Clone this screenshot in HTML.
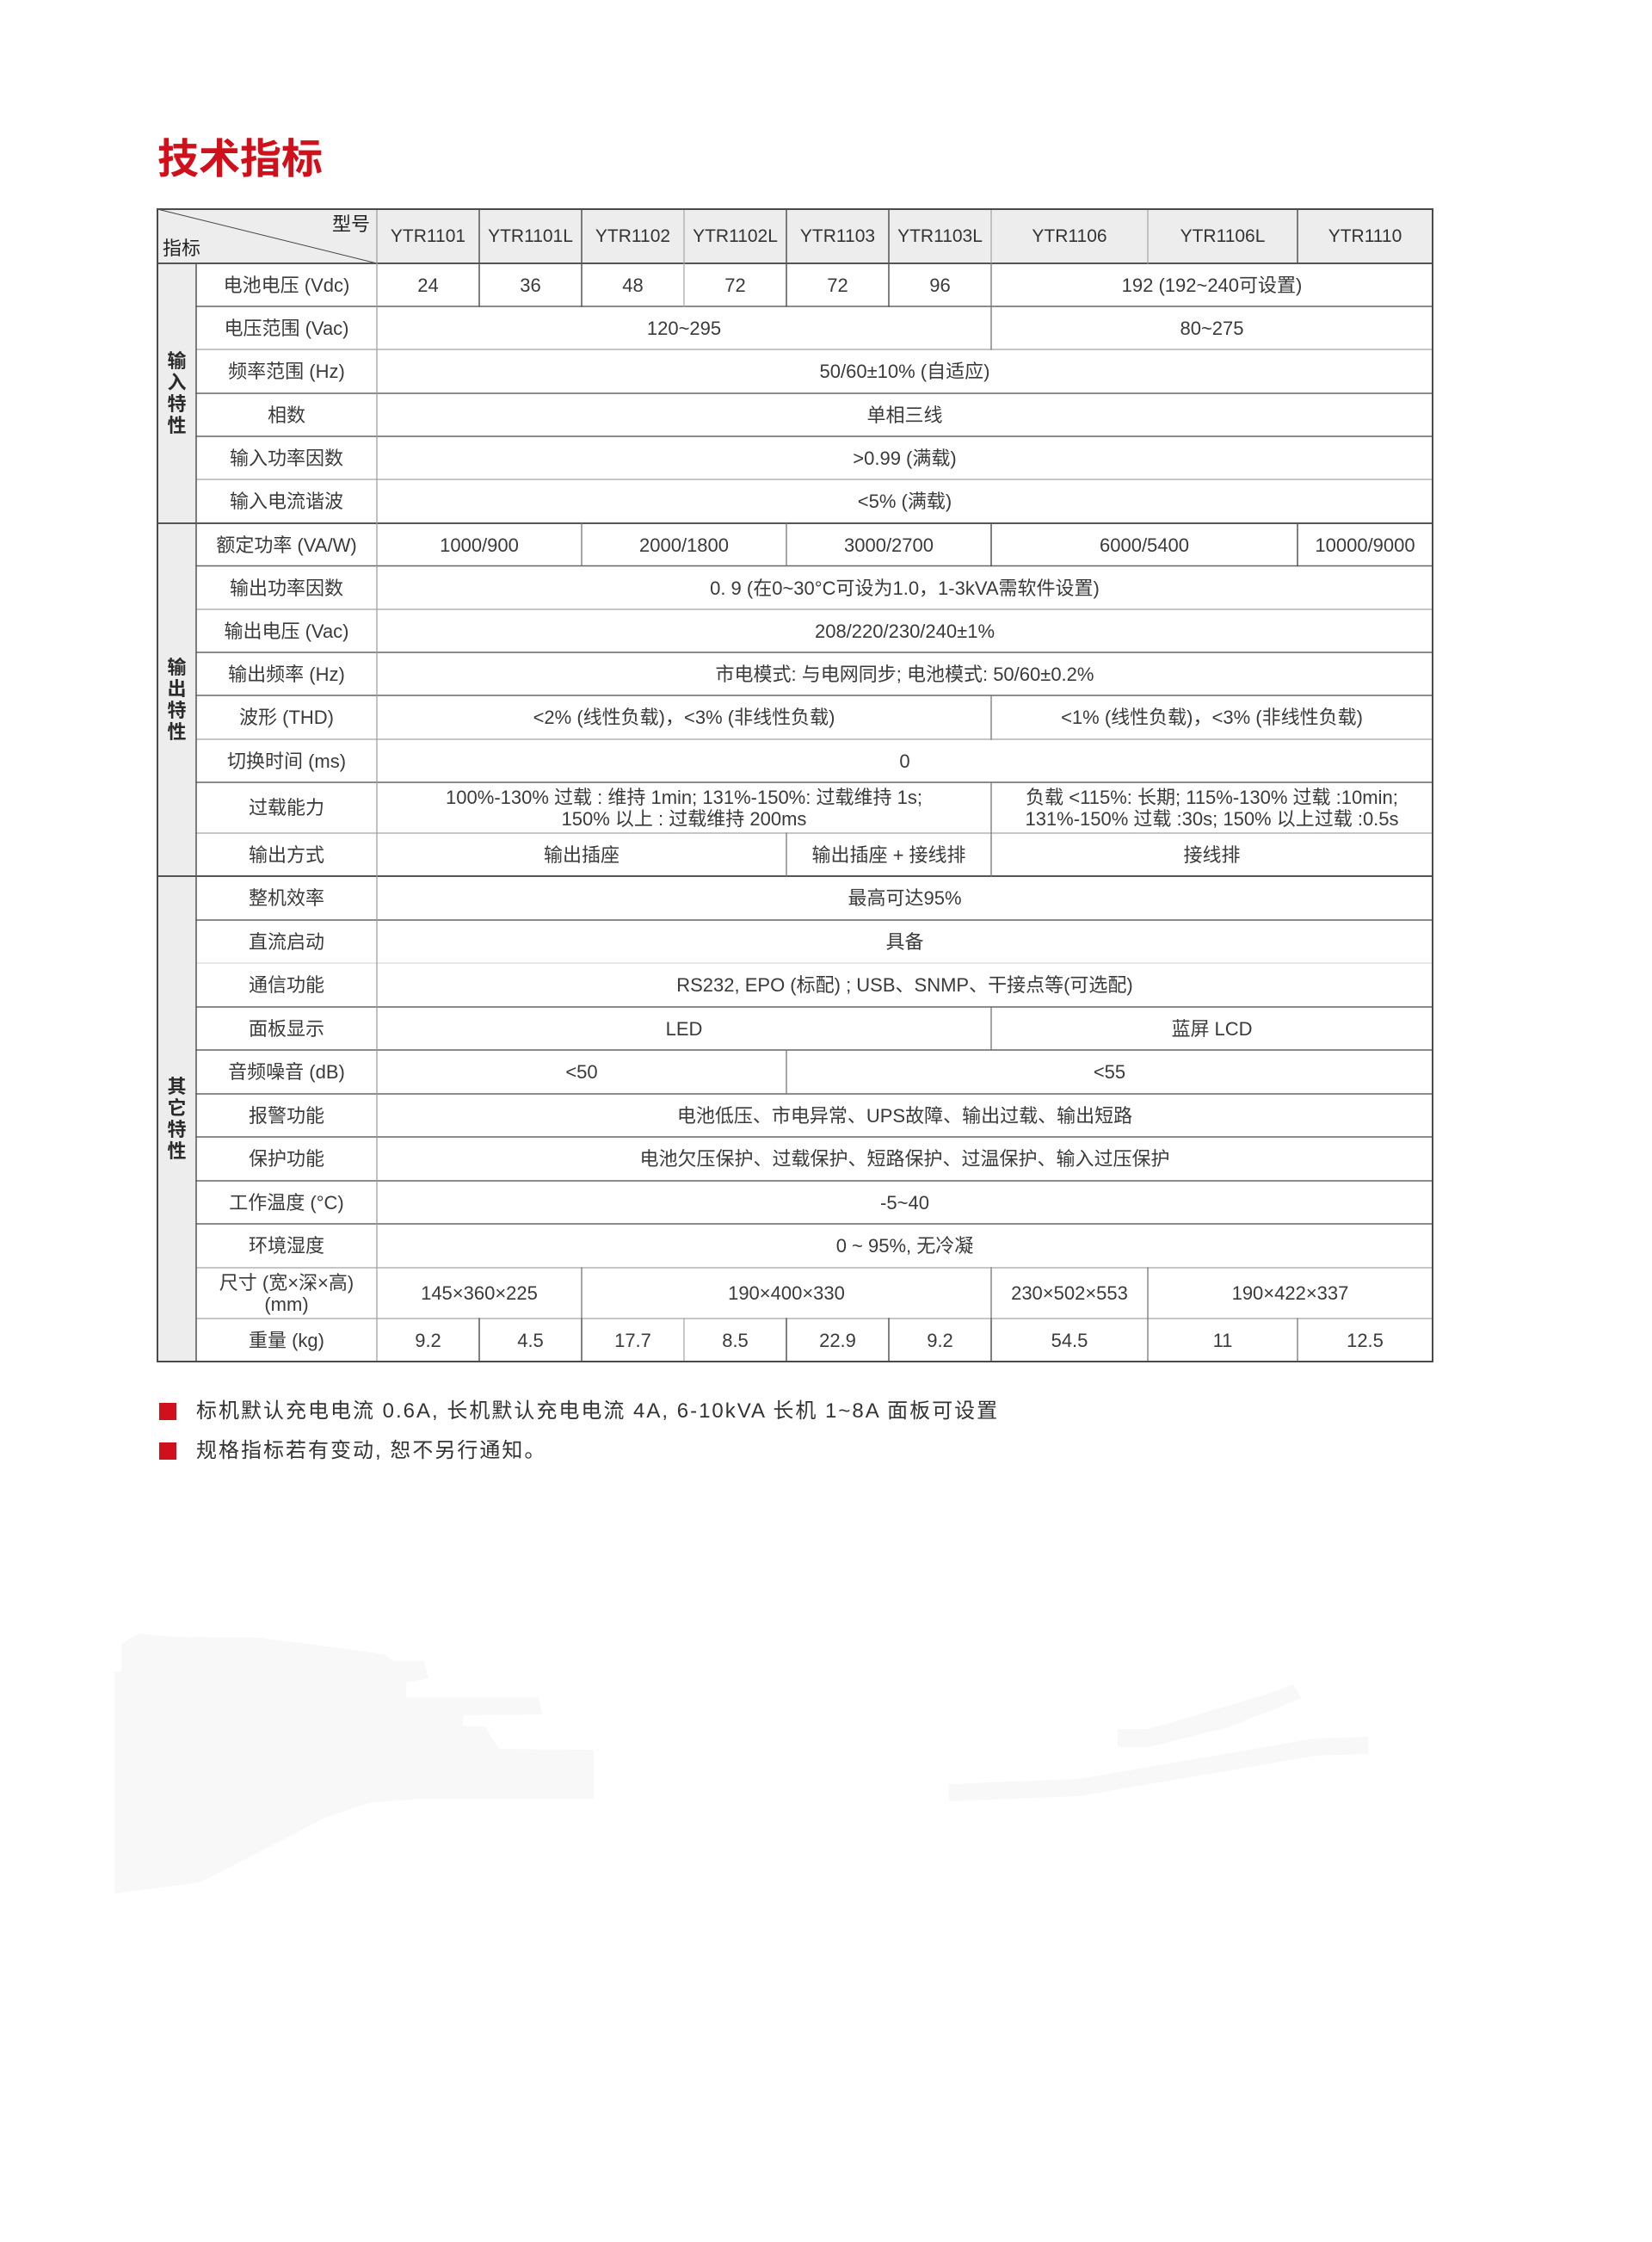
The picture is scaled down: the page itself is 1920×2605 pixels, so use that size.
<!DOCTYPE html>
<html><head><meta charset="utf-8">
<style>
html,body{margin:0;padding:0;background:#fff;}
body{width:1920px;height:2605px;position:relative;overflow:hidden;font-family:"Liberation Sans","Noto Sans CJK SC",sans-serif;}
.t{position:absolute;left:183px;top:156px;font-family:"Noto Sans CJK SC",sans-serif;font-weight:700;font-size:48px;line-height:48px;color:#d0101b;white-space:nowrap;}
.c{position:absolute;display:flex;align-items:center;justify-content:center;text-align:center;font-size:22px;line-height:25px;color:#3a3a3a;white-space:nowrap;}
.h{font-size:21px;color:#333;}
.g{font-size:22px;line-height:25px;color:#2a2a2a;font-weight:700;}
.bg{position:absolute;background:#ededed;}
.n{position:absolute;left:228px;font-family:"Liberation Sans","Noto Sans CJK SC",sans-serif;font-size:24px;letter-spacing:2px;color:#333;white-space:nowrap;line-height:30px;}
.sq{position:absolute;left:185px;width:20px;height:20px;background:#d0101b;}
svg{position:absolute;left:0;top:0;}
</style></head><body>

<svg width="1920" height="2605" style="z-index:0">
<g fill="#f8f8f8">
<polygon points="161,1898 202,1902 304,1903 447,1922 457,1930 493,1930 498,1950 472,1955 472,1972 625,1972 631,1992 539,1993 537,2005 564,2007 580,2032 690,2033 690,2090 488,2090 427,2095 376,2113 324,2140 233,2187 133,2200 133,1943 141,1942 141,1910"/>
<polygon points="1103,2073 1253,2067 1529,2020 1590,2018 1590,2038 1529,2040 1253,2087 1103,2093"/>
<polygon points="1299,2009 1335,2009 1478,1967 1503,1957 1513,1973 1427,2007 1335,2030 1299,2030"/>
</g>
</svg>

<div class="t">技术指标</div>

<!-- backgrounds -->
<div class="bg" style="left:183px;top:243px;width:1482px;height:63px;"></div>
<div class="bg" style="left:183px;top:306px;width:45px;height:1276px;"></div>

<!-- header -->
<div class="c" style="left:380px;top:246px;width:56px;height:28px;font-size:22px;color:#222;">型号</div>
<div class="c" style="left:186px;top:274px;width:50px;height:28px;font-size:22px;color:#222;">指标</div>
<div class="c h" style="left:438px;top:243px;width:119px;height:63px;">YTR1101</div>
<div class="c h" style="left:557px;top:243px;width:119px;height:63px;">YTR1101L</div>
<div class="c h" style="left:676px;top:243px;width:119px;height:63px;">YTR1102</div>
<div class="c h" style="left:795px;top:243px;width:119px;height:63px;">YTR1102L</div>
<div class="c h" style="left:914px;top:243px;width:119px;height:63px;">YTR1103</div>
<div class="c h" style="left:1033px;top:243px;width:119px;height:63px;">YTR1103L</div>
<div class="c h" style="left:1152px;top:243px;width:182px;height:63px;">YTR1106</div>
<div class="c h" style="left:1334px;top:243px;width:174px;height:63px;">YTR1106L</div>
<div class="c h" style="left:1508px;top:243px;width:157px;height:63px;">YTR1110</div>

<!-- group labels -->
<div class="c g" style="left:183px;top:306px;width:45px;height:302px;">输<br>入<br>特<br>性</div>
<div class="c g" style="left:183px;top:608px;width:45px;height:410px;">输<br>出<br>特<br>性</div>
<div class="c g" style="left:183px;top:1018px;width:45px;height:564px;">其<br>它<br>特<br>性</div>

<!-- input rows -->
<div class="c" style="left:228px;top:306px;width:210px;height:50px;">电池电压 (Vdc)</div>
<div class="c" style="left:438px;top:306px;width:119px;height:50px;">24</div>
<div class="c" style="left:557px;top:306px;width:119px;height:50px;">36</div>
<div class="c" style="left:676px;top:306px;width:119px;height:50px;">48</div>
<div class="c" style="left:795px;top:306px;width:119px;height:50px;">72</div>
<div class="c" style="left:914px;top:306px;width:119px;height:50px;">72</div>
<div class="c" style="left:1033px;top:306px;width:119px;height:50px;">96</div>
<div class="c" style="left:1152px;top:306px;width:513px;height:50px;">192 (192~240可设置)</div>

<div class="c" style="left:228px;top:356px;width:210px;height:50px;">电压范围 (Vac)</div>
<div class="c" style="left:438px;top:356px;width:714px;height:50px;">120~295</div>
<div class="c" style="left:1152px;top:356px;width:513px;height:50px;">80~275</div>

<div class="c" style="left:228px;top:406px;width:210px;height:51px;">频率范围 (Hz)</div>
<div class="c" style="left:438px;top:406px;width:1227px;height:51px;">50/60±10% (自适应)</div>

<div class="c" style="left:228px;top:457px;width:210px;height:50px;">相数</div>
<div class="c" style="left:438px;top:457px;width:1227px;height:50px;">单相三线</div>

<div class="c" style="left:228px;top:507px;width:210px;height:50px;">输入功率因数</div>
<div class="c" style="left:438px;top:507px;width:1227px;height:50px;">&gt;0.99 (满载)</div>

<div class="c" style="left:228px;top:557px;width:210px;height:51px;">输入电流谐波</div>
<div class="c" style="left:438px;top:557px;width:1227px;height:51px;">&lt;5% (满载)</div>

<!-- output rows -->
<div class="c" style="left:228px;top:608px;width:210px;height:50px;">额定功率 (VA/W)</div>
<div class="c" style="left:438px;top:608px;width:238px;height:50px;">1000/900</div>
<div class="c" style="left:676px;top:608px;width:238px;height:50px;">2000/1800</div>
<div class="c" style="left:914px;top:608px;width:238px;height:50px;">3000/2700</div>
<div class="c" style="left:1152px;top:608px;width:356px;height:50px;">6000/5400</div>
<div class="c" style="left:1508px;top:608px;width:157px;height:50px;">10000/9000</div>

<div class="c" style="left:228px;top:658px;width:210px;height:50px;">输出功率因数</div>
<div class="c" style="left:438px;top:658px;width:1227px;height:50px;">0. 9 (在0~30°C可设为1.0，1-3kVA需软件设置)</div>

<div class="c" style="left:228px;top:708px;width:210px;height:50px;">输出电压 (Vac)</div>
<div class="c" style="left:438px;top:708px;width:1227px;height:50px;">208/220/230/240±1%</div>

<div class="c" style="left:228px;top:758px;width:210px;height:50px;">输出频率 (Hz)</div>
<div class="c" style="left:438px;top:758px;width:1227px;height:50px;">市电模式: 与电网同步; 电池模式: 50/60±0.2%</div>

<div class="c" style="left:228px;top:808px;width:210px;height:51px;">波形 (THD)</div>
<div class="c" style="left:438px;top:808px;width:714px;height:51px;">&lt;2% (线性负载)，&lt;3% (非线性负载)</div>
<div class="c" style="left:1152px;top:808px;width:513px;height:51px;">&lt;1% (线性负载)，&lt;3% (非线性负载)</div>

<div class="c" style="left:228px;top:859px;width:210px;height:50px;">切换时间 (ms)</div>
<div class="c" style="left:438px;top:859px;width:1227px;height:50px;">0</div>

<div class="c" style="left:228px;top:909px;width:210px;height:59px;">过载能力</div>
<div class="c" style="left:438px;top:909px;width:714px;height:59px;">100%-130% 过载 : 维持 1min; 131%-150%: 过载维持 1s;<br>150% 以上 : 过载维持 200ms</div>
<div class="c" style="left:1152px;top:909px;width:513px;height:59px;">负载 &lt;115%: 长期; 115%-130% 过载 :10min;<br>131%-150% 过载 :30s; 150% 以上过载 :0.5s</div>

<div class="c" style="left:228px;top:968px;width:210px;height:50px;">输出方式</div>
<div class="c" style="left:438px;top:968px;width:476px;height:50px;">输出插座</div>
<div class="c" style="left:914px;top:968px;width:238px;height:50px;">输出插座 + 接线排</div>
<div class="c" style="left:1152px;top:968px;width:513px;height:50px;">接线排</div>

<!-- other rows -->
<div class="c" style="left:228px;top:1018px;width:210px;height:51px;">整机效率</div>
<div class="c" style="left:438px;top:1018px;width:1227px;height:51px;">最高可达95%</div>

<div class="c" style="left:228px;top:1069px;width:210px;height:50px;">直流启动</div>
<div class="c" style="left:438px;top:1069px;width:1227px;height:50px;">具备</div>

<div class="c" style="left:228px;top:1119px;width:210px;height:51px;">通信功能</div>
<div class="c" style="left:438px;top:1119px;width:1227px;height:51px;">RS232, EPO (标配) ; USB、SNMP、干接点等(可选配)</div>

<div class="c" style="left:228px;top:1170px;width:210px;height:50px;">面板显示</div>
<div class="c" style="left:438px;top:1170px;width:714px;height:50px;">LED</div>
<div class="c" style="left:1152px;top:1170px;width:513px;height:50px;">蓝屏 LCD</div>

<div class="c" style="left:228px;top:1220px;width:210px;height:51px;">音频噪音 (dB)</div>
<div class="c" style="left:438px;top:1220px;width:476px;height:51px;">&lt;50</div>
<div class="c" style="left:914px;top:1220px;width:751px;height:51px;">&lt;55</div>

<div class="c" style="left:228px;top:1271px;width:210px;height:50px;">报警功能</div>
<div class="c" style="left:438px;top:1271px;width:1227px;height:50px;">电池低压、市电异常、UPS故障、输出过载、输出短路</div>

<div class="c" style="left:228px;top:1321px;width:210px;height:51px;">保护功能</div>
<div class="c" style="left:438px;top:1321px;width:1227px;height:51px;">电池欠压保护、过载保护、短路保护、过温保护、输入过压保护</div>

<div class="c" style="left:228px;top:1372px;width:210px;height:50px;">工作温度 (°C)</div>
<div class="c" style="left:438px;top:1372px;width:1227px;height:50px;">-5~40</div>

<div class="c" style="left:228px;top:1422px;width:210px;height:51px;">环境湿度</div>
<div class="c" style="left:438px;top:1422px;width:1227px;height:51px;">0 ~ 95%, 无冷凝</div>

<div class="c" style="left:228px;top:1473px;width:210px;height:59px;">尺寸 (宽×深×高)<br>(mm)</div>
<div class="c" style="left:438px;top:1473px;width:238px;height:59px;">145×360×225</div>
<div class="c" style="left:676px;top:1473px;width:476px;height:59px;">190×400×330</div>
<div class="c" style="left:1152px;top:1473px;width:182px;height:59px;">230×502×553</div>
<div class="c" style="left:1334px;top:1473px;width:331px;height:59px;">190×422×337</div>

<div class="c" style="left:228px;top:1532px;width:210px;height:50px;">重量 (kg)</div>
<div class="c" style="left:438px;top:1532px;width:119px;height:50px;">9.2</div>
<div class="c" style="left:557px;top:1532px;width:119px;height:50px;">4.5</div>
<div class="c" style="left:676px;top:1532px;width:119px;height:50px;">17.7</div>
<div class="c" style="left:795px;top:1532px;width:119px;height:50px;">8.5</div>
<div class="c" style="left:914px;top:1532px;width:119px;height:50px;">22.9</div>
<div class="c" style="left:1033px;top:1532px;width:119px;height:50px;">9.2</div>
<div class="c" style="left:1152px;top:1532px;width:182px;height:50px;">54.5</div>
<div class="c" style="left:1334px;top:1532px;width:174px;height:50px;">11</div>
<div class="c" style="left:1508px;top:1532px;width:157px;height:50px;">12.5</div>

<!-- grid lines -->
<svg width="1920" height="2605" style="z-index:2">
<g fill="none" stroke-linecap="square">
<line x1="183" y1="243" x2="438" y2="306" stroke="#444" stroke-width="1"/>
<line x1="183" y1="306" x2="1665" y2="306" stroke="#555" stroke-width="2"/>
<g stroke="#666" stroke-width="1.5">
<line x1="228" y1="356" x2="1665" y2="356"/>
<line x1="228" y1="457" x2="1665" y2="457"/>
<line x1="228" y1="507" x2="1665" y2="507"/>
<line x1="228" y1="657.5" x2="1665" y2="657.5"/>
<line x1="228" y1="758" x2="1665" y2="758"/>
<line x1="228" y1="808" x2="1665" y2="808"/>
<line x1="228" y1="909" x2="1665" y2="909"/>
<line x1="228" y1="1069" x2="1665" y2="1069"/>
<line x1="228" y1="1170" x2="1665" y2="1170"/>
<line x1="228" y1="1220" x2="1665" y2="1220"/>
<line x1="228" y1="1271" x2="1665" y2="1271"/>
<line x1="228" y1="1321" x2="1665" y2="1321"/>
<line x1="228" y1="1372" x2="1665" y2="1372"/>
<line x1="228" y1="1422" x2="1665" y2="1422"/>
</g>
<g stroke="#a5a5a5" stroke-width="1.2">
<line x1="228" y1="406" x2="1665" y2="406"/>
<line x1="228" y1="557" x2="1665" y2="557"/>
<line x1="228" y1="708" x2="1665" y2="708"/>
<line x1="228" y1="859" x2="1665" y2="859"/>
<line x1="228" y1="968" x2="1665" y2="968"/>
<line x1="228" y1="1473" x2="1665" y2="1473"/>
<line x1="228" y1="1532" x2="1665" y2="1532"/>
</g>
<line x1="228" y1="1119" x2="1665" y2="1119" stroke="#d0d0d0" stroke-width="1"/>
<g stroke="#555" stroke-width="2">
<line x1="183" y1="608" x2="1665" y2="608"/>
<line x1="183" y1="1018" x2="1665" y2="1018"/>
</g>
<line x1="228" y1="306" x2="228" y2="1582" stroke="#555" stroke-width="1.5"/>
<line x1="438" y1="243" x2="438" y2="1582" stroke="#9a9a9a" stroke-width="1.2"/>
<g stroke="#555" stroke-width="1.5">
<line x1="557" y1="243" x2="557" y2="356"/>
<line x1="676" y1="243" x2="676" y2="356"/>
<line x1="914" y1="243" x2="914" y2="356"/>
<line x1="1033" y1="243" x2="1033" y2="356"/>
<line x1="1508" y1="243" x2="1508" y2="306"/>
<line x1="1152" y1="608" x2="1152" y2="657.5"/>
<line x1="1508" y1="608" x2="1508" y2="657.5"/>
<line x1="557" y1="1532" x2="557" y2="1582"/>
<line x1="676" y1="1532" x2="676" y2="1582"/>
<line x1="914" y1="1532" x2="914" y2="1582"/>
<line x1="1033" y1="1532" x2="1033" y2="1582"/>
<line x1="1152" y1="1532" x2="1152" y2="1582"/>
</g>
<g stroke="#a5a5a5" stroke-width="1.2">
<line x1="795" y1="243" x2="795" y2="356"/>
<line x1="1152" y1="243" x2="1152" y2="306"/>
<line x1="1334" y1="243" x2="1334" y2="306"/>
<line x1="795" y1="1532" x2="795" y2="1582"/>
</g>
<g stroke="#777" stroke-width="1.3">
<line x1="1152" y1="306" x2="1152" y2="406"/>
<line x1="676" y1="608" x2="676" y2="657.5"/>
<line x1="914" y1="608" x2="914" y2="657.5"/>
<line x1="1152" y1="808" x2="1152" y2="859"/>
<line x1="1152" y1="909" x2="1152" y2="1018"/>
<line x1="914" y1="968" x2="914" y2="1018"/>
<line x1="1152" y1="1170" x2="1152" y2="1220"/>
<line x1="914" y1="1220" x2="914" y2="1271"/>
<line x1="676" y1="1473" x2="676" y2="1532"/>
<line x1="1152" y1="1473" x2="1152" y2="1532"/>
<line x1="1334" y1="1473" x2="1334" y2="1582"/>
<line x1="1508" y1="1532" x2="1508" y2="1582"/>
</g>
<rect x="183" y="243" width="1482" height="1339" stroke="#4a4a4a" stroke-width="2"/>
</g>
</svg>

<!-- notes -->
<div class="sq" style="top:1630px;"></div>
<div class="n" style="top:1625px;">标机默认充电电流 0.6A, 长机默认充电电流 4A, 6-10kVA 长机 1~8A 面板可设置</div>
<div class="sq" style="top:1676px;"></div>
<div class="n" style="top:1671px;">规格指标若有变动, 恕不另行通知。</div>

</body></html>
